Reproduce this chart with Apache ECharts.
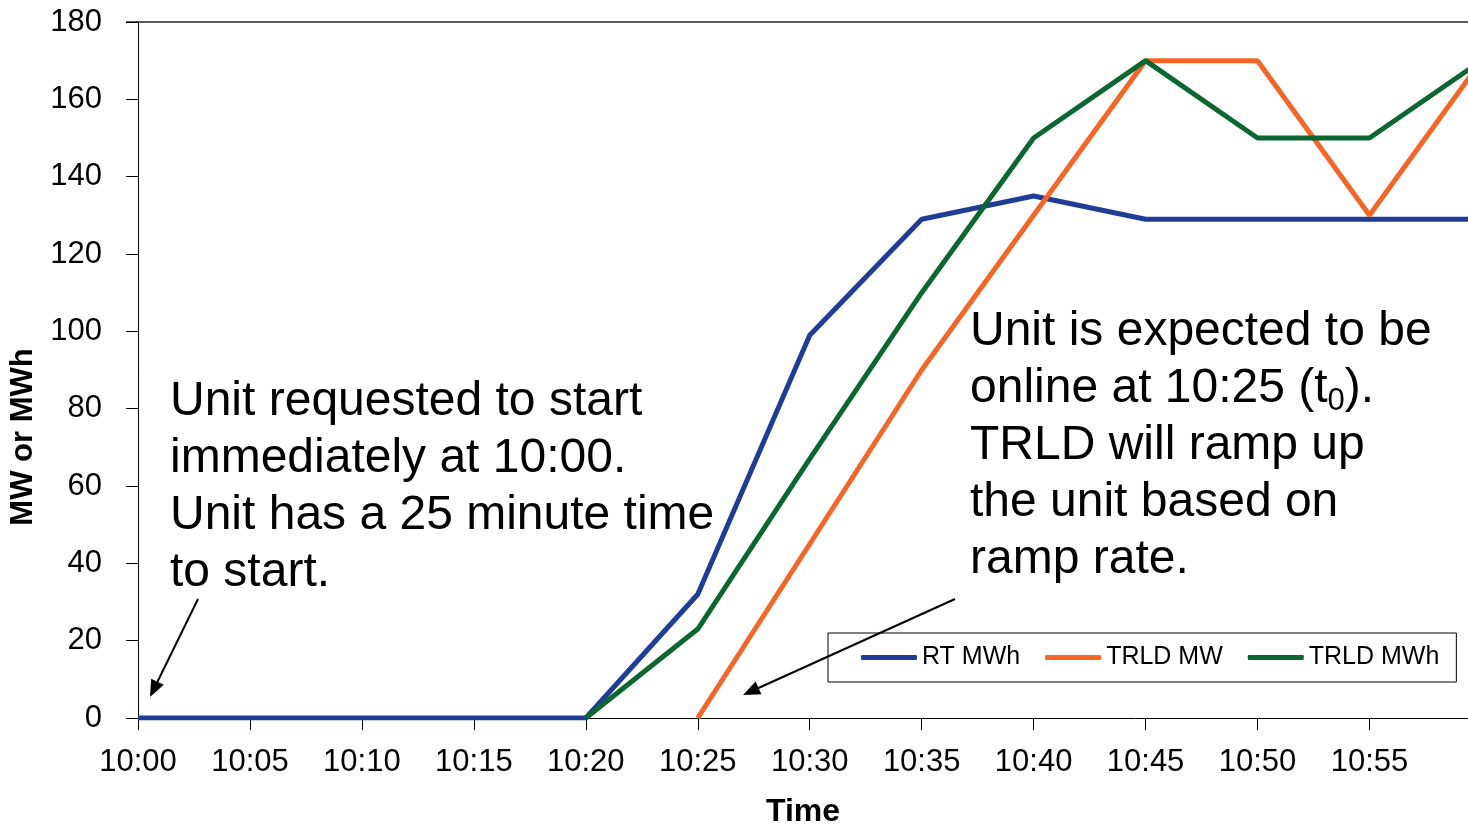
<!DOCTYPE html>
<html>
<head>
<meta charset="utf-8">
<script src="https://cdn.jsdelivr.net/npm/echarts@6/dist/echarts.min.js"></script>
<style>
  html, body { margin: 0; padding: 0; background: #fff; }
  #chart01 { width: 1468px; height: 827px; }
</style>
</head>
<body>
<div id="chart01"></div>
<script>
// minutes after 10:00
var minutes = [0, 5, 10, 15, 20, 25, 30, 35, 40, 45, 50, 55, 60];
var xTickLabels = ['10:00', '10:05', '10:10', '10:15', '10:20', '10:25', '10:30', '10:35', '10:40', '10:45', '10:50', '10:55'];
var rtMWh   = [0, 0, 0, 0, 0, 32, 99, 129, 135, 129, 129, 129, 129];
var trldMW  = [null, null, null, null, null, 0, 45, 90, 130, 170, 170, 130, 170];
var trldMWh = [null, null, null, null, 0, 23, 67, 110, 150, 170, 150, 150, 170];

var sans = "'Liberation Sans', Arial, sans-serif";

function pairs(vals) {
  var out = [];
  for (var i = 0; i < minutes.length; i++) {
    if (vals[i] !== null) out.push([minutes[i], vals[i]]);
  }
  return out;
}

function arrow(x1, y1, x2, y2) {
  var dx = x2 - x1, dy = y2 - y1;
  var len = Math.sqrt(dx * dx + dy * dy);
  var ux = dx / len, uy = dy / len;
  var hl = 17, hw = 7;
  var bx = x2 - ux * hl, by = y2 - uy * hl;
  return [
    { type: 'line', shape: { x1: x1, y1: y1, x2: bx, y2: by }, style: { stroke: '#000', lineWidth: 2 } },
    { type: 'polygon', shape: { points: [[x2, y2], [bx - uy * hw, by + ux * hw], [bx + uy * hw, by - ux * hw]] }, style: { fill: '#000' } }
  ];
}

var chart01 = echarts.init(document.getElementById('chart01'));

var option_c01 = {
  animation: false,
  grid: { left: 138, right: 0, top: 22, bottom: 109, outerBoundsMode: 'none', containLabel: false },
  legend: {
    left: 828, top: 633,
    width: 600,
    padding: [12, 17, 12, 33],
    itemGap: 25,
    itemWidth: 56,
    itemHeight: 5,
    icon: 'roundRect',
    borderColor: '#000',
    borderWidth: 1,
    borderRadius: 0,
    textStyle: { fontFamily: sans, fontSize: 25, color: '#000' },
    data: ['RT MWh', 'TRLD MW', 'TRLD MWh']
  },
  xAxis: {
    type: 'value',
    min: 0, max: 59.4, interval: 5,
    name: 'Time',
    nameLocation: 'middle',
    nameGap: 78,
    nameTextStyle: { fontFamily: sans, fontSize: 32, fontWeight: 'bold', color: '#000' },
    axisLine: { lineStyle: { color: '#000', width: 1 } },
    axisTick: { length: 12, lineStyle: { color: '#000' } },
    axisLabel: {
      margin: 29,
      showMaxLabel: false,
      fontFamily: sans, fontSize: 31, color: '#000',
      formatter: function (v) { return xTickLabels[Math.round(v / 5)] || ''; }
    },
    splitLine: { show: false }
  },
  yAxis: {
    type: 'value',
    min: 0, max: 180, interval: 20,
    name: 'MW or MWh',
    nameLocation: 'middle',
    nameGap: 85,
    nameTextStyle: { fontFamily: sans, fontSize: 31, fontWeight: 'bold', color: '#000', padding: [0, 134, 0, 0] },
    axisLine: { show: true, lineStyle: { color: '#000', width: 1 } },
    axisTick: { show: true, length: 12, lineStyle: { color: '#000' } },
    axisLabel: { margin: 36, fontFamily: sans, fontSize: 31, color: '#000' },
    splitLine: { show: false }
  },
  series: [
    {
      name: 'RT MWh', type: 'line', symbol: 'none',
      data: pairs(rtMWh),
      itemStyle: { color: '#1f3d94' },
      lineStyle: { color: '#1f3d94', width: 5 }
    },
    {
      name: 'TRLD MW', type: 'line', symbol: 'none',
      data: pairs(trldMW),
      itemStyle: { color: '#f46528' },
      lineStyle: { color: '#f46528', width: 5 }
    },
    {
      name: 'TRLD MWh', type: 'line', symbol: 'none',
      data: pairs(trldMWh),
      itemStyle: { color: '#0b6632' },
      lineStyle: { color: '#0b6632', width: 5 }
    }
  ],
  graphic: [
    // top border of plot area
    { type: 'line', shape: { x1: 126, y1: 22, x2: 1468, y2: 22 }, style: { stroke: '#5a5a5a', lineWidth: 2 } },
    {
      type: 'text', left: 170, top: 373,
      style: {
        text: 'Unit requested to start\nimmediately at 10:00.\nUnit has a 25 minute time\nto start.',
        font: '48px ' + sans, fill: '#000', lineHeight: 57
      }
    },
    {
      type: 'text', left: 970, top: 303,
      style: {
        text: 'Unit is expected to be\nonline at 10:25 (t{sub|0}).\nTRLD will ramp up\nthe unit based on\nramp rate.',
        font: '48px ' + sans, fill: '#000', lineHeight: 57,
        rich: {
          sub: { font: '31px ' + sans, fill: '#000', lineHeight: 40, verticalAlign: 'bottom' }
        }
      }
    }
  ].concat(arrow(198, 599, 150, 697)).concat(arrow(955, 599, 743, 695))
};

chart01.setOption(option_c01);
</script>
</body>
</html>
